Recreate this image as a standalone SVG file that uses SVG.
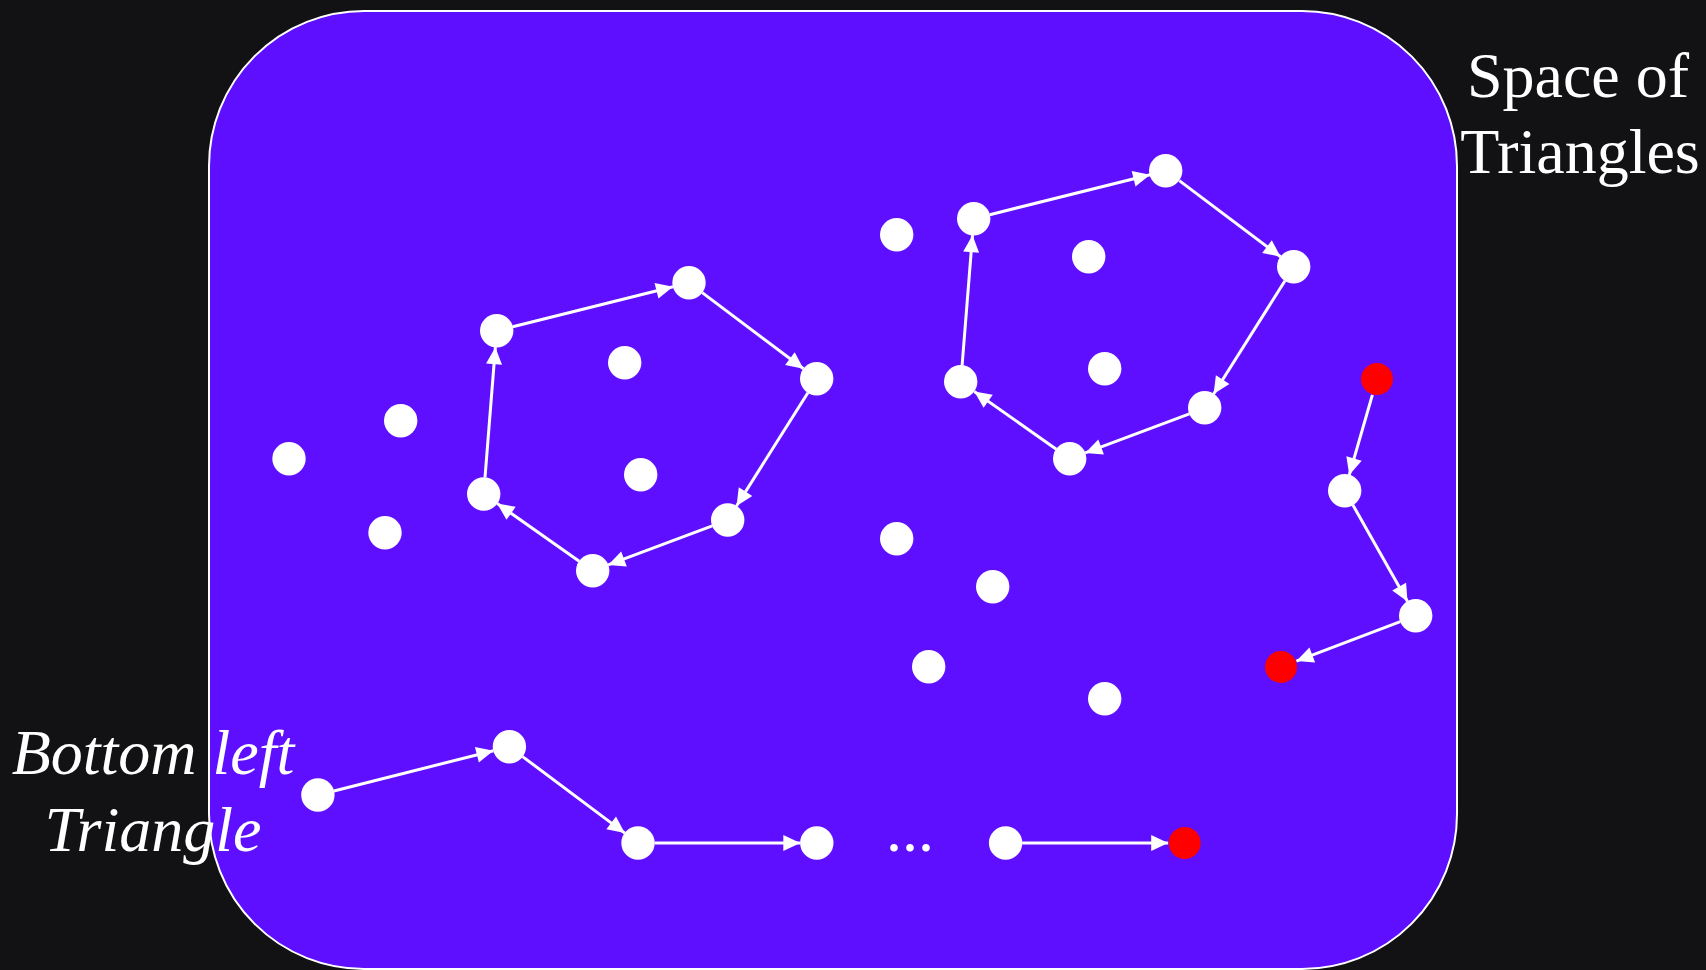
<svg xmlns="http://www.w3.org/2000/svg" width="1706" height="970" viewBox="0 0 1706 970">
<defs>
<marker id="arr" markerUnits="userSpaceOnUse" markerWidth="18" markerHeight="17" refX="17" refY="8.5" orient="auto" overflow="visible">
<path d="M0,0.5 L17,8.5 L0,16.5 Z" fill="#ffffff"/>
</marker>
<style>
.bg{fill:#121214}
.space{fill:#5e0fff;stroke:#ffffff;stroke-width:2}
.n{fill:#ffffff}
.r{fill:#ff0000}
.e{stroke:#ffffff;stroke-width:3;fill:none;marker-end:url(#arr)}
.t{fill:#ffffff;font-family:"Liberation Serif","Times New Roman",serif;font-size:64px}
.ti{fill:#ffffff;font-family:"Liberation Serif","Times New Roman",serif;font-size:64px;font-style:italic}
</style>
</defs>
<rect class="bg" x="0" y="0" width="1706" height="970"/>
<rect id="space" class="space" x="209" y="11" width="1248" height="958" rx="155" ry="155"/>

<g id="connectors">
<line class="e" x1="512.7" y1="326.7" x2="673" y2="286.7"/>
<line class="e" x1="702.2" y1="292.6" x2="803.5" y2="368.8"/>
<line class="e" x1="807.9" y1="392.7" x2="736.5" y2="506"/>
<line class="e" x1="712.3" y1="525.8" x2="608.1" y2="564.9"/>
<line class="e" x1="579.2" y1="561.2" x2="497.2" y2="503.5"/>
<line class="e" x1="485" y1="477.5" x2="495.4" y2="347.2"/>

<line class="e" x1="989.8" y1="214.7" x2="1150.1" y2="174.7"/>
<line class="e" x1="1179.3" y1="180.6" x2="1280.6" y2="256.8"/>
<line class="e" x1="1285" y1="280.7" x2="1213.6" y2="394"/>
<line class="e" x1="1189.4" y1="413.8" x2="1085.2" y2="452.9"/>
<line class="e" x1="1056.3" y1="449.2" x2="974.3" y2="391.5"/>
<line class="e" x1="962.1" y1="365.5" x2="972.5" y2="235.2"/>

<line class="e" x1="1372.4" y1="394.8" x2="1349.3" y2="474.9"/>
<line class="e" x1="1352.9" y1="505" x2="1407.5" y2="601.4"/>
<line class="e" x1="1400.3" y1="621.6" x2="1296.4" y2="661.1"/>

<line class="e" x1="333.9" y1="791" x2="493.4" y2="750.7"/>
<line class="e" x1="522.6" y1="756.6" x2="624.8" y2="833.1"/>
<line class="e" x1="654.5" y1="843" x2="800.3" y2="843"/>
<line class="e" x1="1022.1" y1="843" x2="1168.2" y2="843"/>
</g>

<g id="n-l1"><circle class="n" cx="289" cy="458.7" r="16.7"/></g>
<g id="n-l2"><circle class="n" cx="400.7" cy="420.7" r="16.7"/></g>
<g id="n-l3"><circle class="n" cx="385" cy="532.7" r="16.7"/></g>

<g id="n-ha"><circle class="n" cx="496.7" cy="330.7" r="16.7"/></g>
<g id="n-hb"><circle class="n" cx="689" cy="282.7" r="16.7"/></g>
<g id="n-hc"><circle class="n" cx="816.7" cy="378.7" r="16.7"/></g>
<g id="n-hd"><circle class="n" cx="727.7" cy="520" r="16.7"/></g>
<g id="n-he"><circle class="n" cx="592.7" cy="570.7" r="16.7"/></g>
<g id="n-hf"><circle class="n" cx="483.7" cy="494" r="16.7"/></g>
<g id="n-hi1"><circle class="n" cx="624.7" cy="362.7" r="16.7"/></g>
<g id="n-hi2"><circle class="n" cx="640.7" cy="474.7" r="16.7"/></g>

<g id="n-m1"><circle class="n" cx="896.7" cy="234.7" r="16.7"/></g>
<g id="n-ka"><circle class="n" cx="973.7" cy="218.7" r="16.7"/></g>
<g id="n-kb"><circle class="n" cx="1165.7" cy="170.7" r="16.7"/></g>
<g id="n-kc"><circle class="n" cx="1293.7" cy="266.7" r="16.7"/></g>
<g id="n-kd"><circle class="n" cx="1204.7" cy="407.7" r="16.7"/></g>
<g id="n-ke"><circle class="n" cx="1069.7" cy="458.7" r="16.7"/></g>
<g id="n-kf"><circle class="n" cx="960.7" cy="381.7" r="16.7"/></g>
<g id="n-ki1"><circle class="n" cx="1088.7" cy="256.7" r="16.7"/></g>
<g id="n-ki2"><circle class="n" cx="1104.7" cy="368.7" r="16.7"/></g>

<g id="n-m2"><circle class="n" cx="896.7" cy="538.7" r="16.7"/></g>
<g id="n-m3"><circle class="n" cx="992.7" cy="586.7" r="16.7"/></g>
<g id="n-m4"><circle class="n" cx="928.7" cy="666.7" r="16.7"/></g>
<g id="n-m5"><circle class="n" cx="1104.7" cy="698.7" r="16.7"/></g>

<g id="n-r1"><circle class="r" cx="1377" cy="379" r="16"/></g>
<g id="n-rw1"><circle class="n" cx="1344.7" cy="490.7" r="16.7"/></g>
<g id="n-rw2"><circle class="n" cx="1415.7" cy="615.7" r="16.7"/></g>
<g id="n-r2"><circle class="r" cx="1281" cy="667" r="16"/></g>

<g id="n-p1"><circle class="n" cx="317.9" cy="795" r="16.7"/></g>
<g id="n-p2"><circle class="n" cx="509.4" cy="746.7" r="16.7"/></g>
<g id="n-p3"><circle class="n" cx="638" cy="843" r="16.7"/></g>
<g id="n-p4"><circle class="n" cx="816.8" cy="843" r="16.7"/></g>
<g id="n-p5"><circle class="n" cx="1005.6" cy="843" r="16.7"/></g>
<g id="n-pr"><circle class="r" cx="1184.7" cy="843" r="16"/></g>

<text class="t" x="910" y="851" text-anchor="middle">...</text>

<g id="label-space">
<text class="t" x="1578" y="97" text-anchor="middle">Space of</text>
<text class="t" x="1580" y="173" text-anchor="middle">Triangles</text>
</g>
<g id="label-bottom">
<text class="ti" x="153" y="774" text-anchor="middle">Bottom left</text>
<text class="ti" x="153" y="851" text-anchor="middle">Triangle</text>
</g>
</svg>
